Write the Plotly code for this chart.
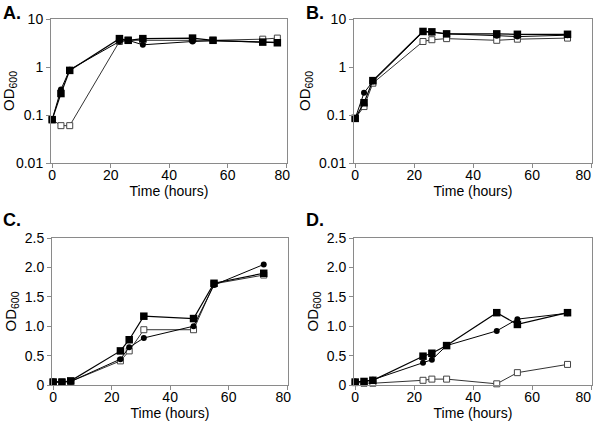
import plotly.graph_objects as go

# ---- data ----
time_A = [0, 3, 6, 23, 26, 31, 48, 55, 72, 77]
A_sq_filled = [0.08, 0.28, 0.85, 3.9, 3.6, 3.9, 4.0, 3.6, 3.3, 3.2]
A_circle = [0.08, 0.34, 0.88, 3.4, 3.6, 2.9, 3.4, 3.5, 3.3, 3.3]
A_sq_open = [0.08, 0.06, 0.06, 3.4, 3.6, 3.6, 3.7, 3.6, 3.8, 4.0]

time_B = [0, 3, 6, 23, 26, 31, 48, 55, 72]
B_sq_filled = [0.085, 0.18, 0.52, 5.5, 5.4, 4.9, 4.9, 4.8, 4.8]
B_circle = [0.085, 0.29, 0.50, 5.4, 5.3, 4.9, 4.5, 4.3, 4.6]
B_sq_open = [0.085, 0.15, 0.46, 3.4, 3.7, 3.9, 3.6, 3.8, 4.0]

time_C = [0, 3, 6, 23, 26, 31, 48, 55, 72]
C_sq_filled = [0.05, 0.05, 0.07, 0.58, 0.77, 1.17, 1.13, 1.73, 1.90]
C_circle = [0.06, 0.05, 0.06, 0.44, 0.64, 0.80, 1.00, 1.70, 2.05]
C_sq_open = [0.05, 0.05, 0.06, 0.41, 0.58, 0.94, 0.94, 1.72, 1.87]

time_D = [0, 3, 6, 23, 26, 31, 48, 55, 72]
D_sq_filled = [0.05, 0.06, 0.08, 0.49, 0.54, 0.67, 1.23, 1.03, 1.23]
D_circle = [0.06, 0.06, 0.09, 0.38, 0.43, 0.67, 0.92, 1.12, 1.22]
D_sq_open = [0.04, 0.03, 0.03, 0.08, 0.10, 0.10, 0.02, 0.21, 0.35]

log_ticks = [0.01, 0.1, 1, 10]
log_ticktext = ["0.01", "0.1", "1", "10"]
lin_ticks = [0, 0.5, 1.0, 1.5, 2.0, 2.5]
lin_ticktext = ["0", "0.5", "1.0", "1.5", "2.0", "2.5"]
x_ticks = [0, 20, 40, 60, 80]
x_ticktext_left = ["0", "20", "40", "60", "80\u00a0\u00a0"]
x_ticktext_right = ["0", "20", "40", "60", "80\u00a0\u00a0\u00a0\u00a0"]
panel_labels = ["A.", "B.", "C.", "D."]

W, H = 600, 422
FONT = "Liberation Sans, Arial, sans-serif"

fig = go.Figure()

panels = [
    (time_A, A_sq_filled, A_circle, A_sq_open, "log", (51, 287, 19, 163), x_ticktext_left),
    (time_B, B_sq_filled, B_circle, B_sq_open, "log", (354, 592, 19, 163), x_ticktext_right),
    (time_C, C_sq_filled, C_circle, C_sq_open, "lin", (52, 288, 238, 385), x_ticktext_left),
    (time_D, D_sq_filled, D_circle, D_sq_open, "lin", (354, 592, 238, 385), x_ticktext_right),
]

layout = {}
for i, (t, sqf, cir, sqo, kind, (x0, x1, y0, y1), xtt) in enumerate(panels, start=1):
    xa = "x" if i == 1 else f"x{i}"
    ya = "y" if i == 1 else f"y{i}"
    common = dict(xaxis=xa, yaxis=ya, mode="lines+markers", showlegend=False,
                  cliponaxis=False, hoverinfo="skip")
    fig.add_trace(go.Scatter(x=t, y=sqo, line=dict(color="#333", width=1),
                             marker=dict(symbol="square", size=6, color="white",
                                         line=dict(color="#444", width=1)), **common))
    fig.add_trace(go.Scatter(x=t, y=cir, line=dict(color="black", width=1),
                             marker=dict(symbol="circle", size=6, color="black"), **common))
    fig.add_trace(go.Scatter(x=t, y=sqf, line=dict(color="black", width=1.2),
                             marker=dict(symbol="square", size=7.5, color="black"), **common))

    axis_style = dict(showline=True, linecolor="#8a8a8a", linewidth=1, mirror=True,
                      ticks="outside", ticklen=4, tickcolor="#8a8a8a",
                      showgrid=False, zeroline=False, automargin=False,
                      ticklabeloverflow="allow",
                      tickfont=dict(family=FONT, size=14, color="black"))
    xkey = "xaxis" if i == 1 else f"xaxis{i}"
    ykey = "yaxis" if i == 1 else f"yaxis{i}"
    layout[xkey] = dict(domain=[x0 / W, x1 / W], anchor=ya, range=[-0.4, 80.3],
                        tickvals=x_ticks, ticktext=xtt, ticklabelstandoff=-5,
                        title=dict(text="Time (hours)", standoff=0,
                                   font=dict(family=FONT, size=14, color="black")),
                        **axis_style)
    if kind == "log":
        yextra = dict(type="log", range=[-2, 1], tickvals=log_ticks, ticktext=log_ticktext)
    else:
        yextra = dict(range=[0, 2.5], tickvals=lin_ticks, ticktext=lin_ticktext)
    layout[ykey] = dict(domain=[1 - y1 / H, 1 - y0 / H], anchor=xa,
                        title=dict(text="OD<sub>600</sub>", standoff=4,
                                   font=dict(family=FONT, size=15, color="black")),
                        **yextra, **axis_style)

annotations = []
label_pos = [(1, 1), (304, 1), (1, 208), (304, 208)]
for lab, (px, py) in zip(panel_labels, label_pos):
    annotations.append(dict(text=f"<b>{lab}</b>", x=px / W, y=1 - py / H,
                            xref="paper", yref="paper", xanchor="left", yanchor="top",
                            showarrow=False,
                            font=dict(family=FONT, size=18, color="black")))

fig.update_layout(width=W, height=H, margin=dict(l=0, r=0, t=0, b=0),
                  paper_bgcolor="white", plot_bgcolor="white",
                  annotations=annotations, **layout)

fig.write_html("out.html",
               config={"displayModeBar": False, "staticPlot": True},
               post_script="document.body.style.margin='0';"
                           "document.body.style.overflow='hidden';")
